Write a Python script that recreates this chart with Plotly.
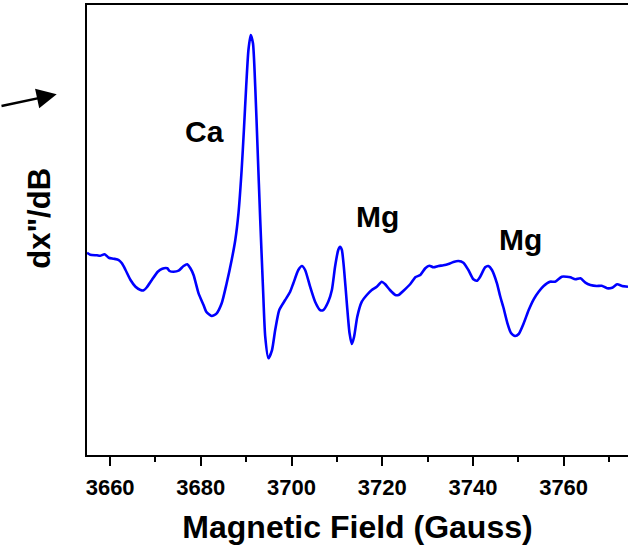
import plotly.graph_objects as go

# Magnetic field (Gauss) and derivative signal (arbitrary units)
field = [3654.9, 3655.6, 3657.1, 3657.8, 3658.8, 3659.7, 3660.8, 3661.9, 3662.6, 3663.4,
         3664.5, 3665.6, 3666.7, 3667.4, 3668.1, 3669.2, 3670.5, 3671.5, 3672.6, 3673.1,
         3674.0, 3675.1, 3676.2, 3677.0, 3677.7, 3678.4, 3679.5, 3680.6, 3681.2, 3682.4,
         3683.5, 3684.6, 3685.7, 3686.8, 3687.6, 3688.3, 3689.0, 3689.5, 3690.0, 3690.5,
         3691.0, 3691.5, 3692.0, 3692.5, 3693.1, 3693.7, 3694.2, 3694.9, 3695.7, 3696.4,
         3697.3, 3698.6, 3699.7, 3700.4, 3701.5, 3702.3, 3703.0, 3704.1, 3705.2, 3706.3,
         3707.0, 3708.1, 3708.9, 3709.6, 3710.3, 3710.7, 3711.1, 3711.6, 3712.2, 3712.8,
         3713.3, 3713.8, 3714.5, 3715.5, 3716.6, 3717.7, 3718.8, 3719.9, 3720.6, 3721.7,
         3722.9, 3723.6, 3724.7, 3726.2, 3727.3, 3728.4, 3729.5, 3730.4, 3731.3, 3732.4,
         3733.5, 3734.6, 3735.7, 3736.8, 3737.9, 3739.0, 3740.1, 3740.9, 3741.6, 3742.7,
         3743.4, 3744.2, 3745.3, 3746.0, 3746.7, 3747.6, 3748.4, 3749.3, 3750.1, 3751.2,
         3752.3, 3753.4, 3754.5, 3755.6, 3757.0, 3758.1, 3759.6, 3760.7, 3761.5, 3762.6,
         3763.7, 3764.8, 3765.9, 3767.3, 3768.4, 3769.6, 3770.7, 3771.8, 3772.9, 3774.2]

signal = [44.96, 44.51, 44.38, 44.29, 44.60, 43.84, 43.62, 43.33, 42.60, 41.11,
          38.89, 37.40, 36.67, 36.60, 37.27, 38.89, 40.73, 41.40, 41.49, 40.89,
          40.73, 40.96, 42.00, 42.38, 41.49, 40.00, 35.93, 33.33, 31.84, 30.89,
          31.49, 33.71, 38.16, 43.33, 47.78, 53.71, 63.33, 72.22, 81.84, 90.00,
          93.33, 91.49, 81.84, 68.51, 52.22, 37.40, 26.29, 21.49, 23.33, 27.78,
          32.22, 34.44, 36.29, 38.16, 41.11, 42.00, 41.11, 37.40, 34.07, 32.22,
          32.22, 34.07, 36.67, 41.84, 45.56, 46.29, 45.56, 41.11, 33.71, 27.04,
          24.67, 26.29, 30.73, 34.07, 35.56, 36.67, 37.40, 38.51, 38.00, 36.67,
          35.56, 35.56, 36.51, 38.00, 39.49, 40.00, 41.49, 42.07, 41.71, 42.00,
          42.16, 42.44, 42.89, 43.11, 42.73, 41.11, 39.04, 38.73, 39.62, 41.71,
          42.00, 41.11, 38.16, 35.33, 32.89, 29.33, 27.11, 26.44, 26.89, 29.27,
          32.22, 34.60, 36.29, 37.56, 38.51, 38.51, 39.62, 39.62, 39.49, 39.04,
          39.27, 38.29, 37.78, 37.56, 37.62, 37.04, 37.18, 37.93, 37.56, 37.40]

x_ticks = [3660, 3680, 3700, 3720, 3740, 3760]
peak_labels = ["Ca", "Mg", "Mg"]
peak_label_x = [3680.9, 3718.9, 3750.6]
peak_label_y = [71.9, 52.9, 48.0]

FONT = "Liberation Sans, Arial, sans-serif"

fig = go.Figure()
fig.add_trace(go.Scatter(
    x=field, y=signal, mode="lines",
    line=dict(color="#0000ff", width=2.6, shape="spline", smoothing=0.6),
    showlegend=False, hoverinfo="skip",
))

for t, lx, ly in zip(peak_labels, peak_label_x, peak_label_y):
    fig.add_annotation(x=lx, y=ly, xref="x", yref="y", text=t, showarrow=False,
                       font=dict(family=FONT, size=30, color="black", weight="bold"),
                       xanchor="center", yanchor="middle")

# y-axis title as rotated annotation
fig.add_annotation(x=-0.087, y=0.527, xref="paper", yref="paper", text='dx"/dB',
                   showarrow=False, textangle=-90,
                   font=dict(family=FONT, size=31, color="black", weight="bold"),
                   xanchor="center", yanchor="middle")

# arrow at the upper left
fig.add_annotation(x=-0.056, y=0.8016, xref="paper", yref="paper", text="",
                   showarrow=True, ax=-57, ay=12, axref="pixel", ayref="pixel",
                   arrowhead=2, arrowsize=1.6, arrowwidth=2.5, arrowcolor="black")

fig.update_layout(
    width=628, height=547,
    margin=dict(l=87, r=0, t=5, b=92),
    paper_bgcolor="white", plot_bgcolor="white",
    font=dict(family=FONT, color="black"),
    xaxis=dict(
        range=[3654.9, 3774.2], tickvals=x_ticks,
        showline=True, linecolor="black", linewidth=2, mirror=True,
        ticks="outside", ticklen=9, tickwidth=2, tickcolor="black",
        ticklabelstandoff=3,
        minor=dict(ticks="outside", ticklen=5, tickwidth=2, tickcolor="black", dtick=10, tick0=3650),
        showgrid=False, zeroline=False,
        tickfont=dict(family=FONT, size=22, color="black", weight="bold"),
        title=dict(text="Magnetic Field (Gauss)", standoff=16,
                   font=dict(family=FONT, size=32, color="black", weight="bold")),
    ),
    yaxis=dict(
        range=[0, 100], showline=True, linecolor="black", linewidth=2, mirror=False,
        showticklabels=False, ticks="", showgrid=False, zeroline=False,
    ),
)

fig.write_html("out.html", config={"displayModeBar": False},
               post_script="document.body.style.margin='0';document.body.style.overflow='hidden';")
